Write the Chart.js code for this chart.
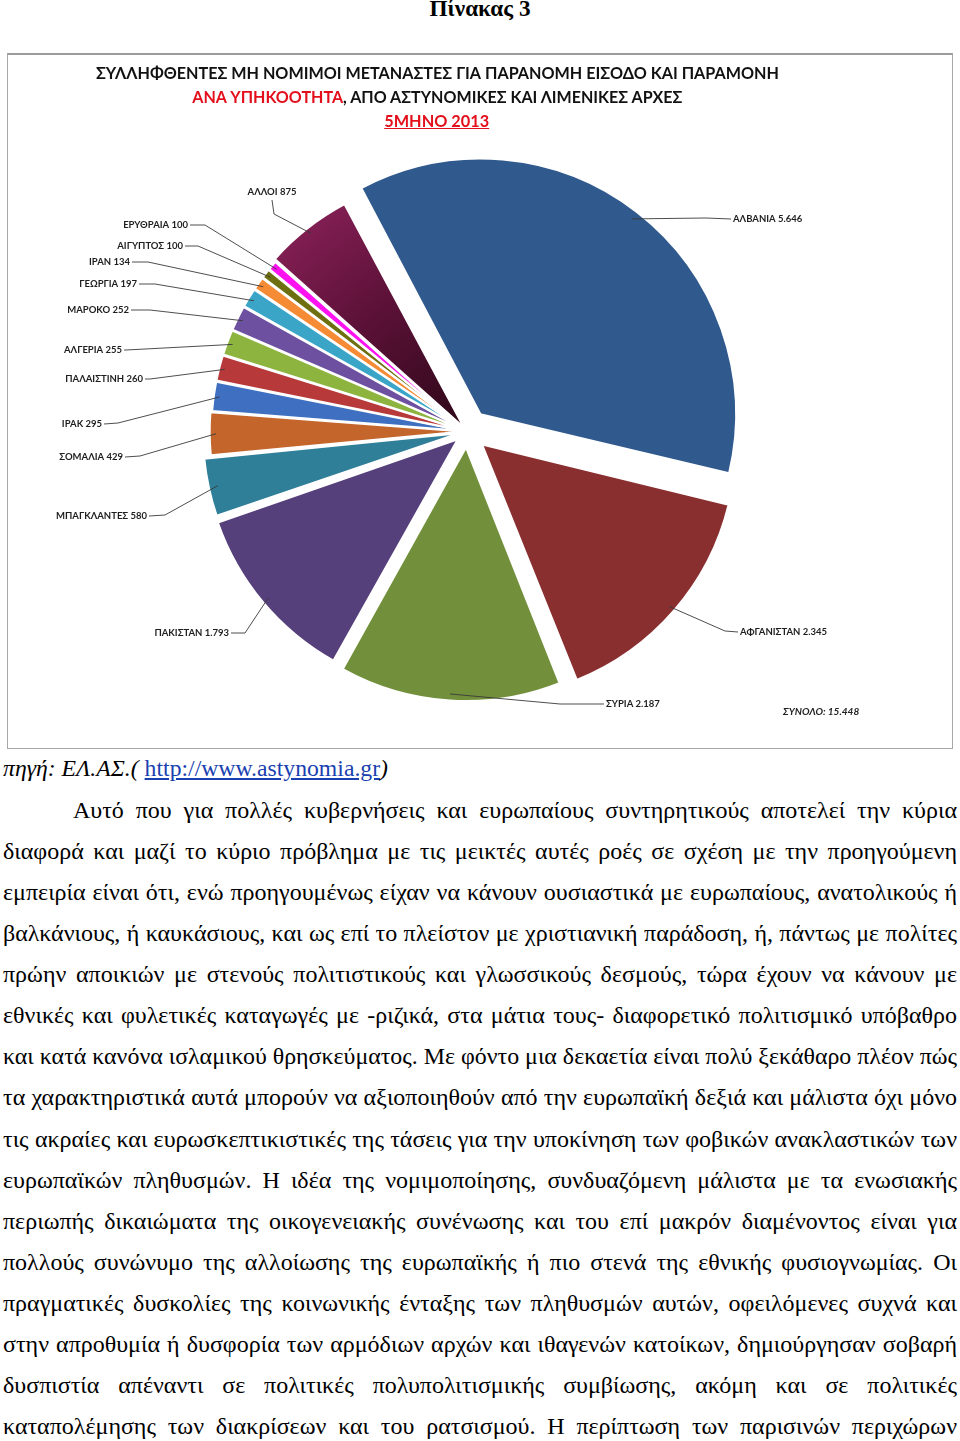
<!DOCTYPE html>
<html lang="el">
<head>
<meta charset="UTF-8">
<title>Πίνακας 3</title>
<script src="https://cdn.jsdelivr.net/npm/chart.js"></script>
<style>
    body {
        margin: 0;
        width: 960px;
        height: 1441px;
        position: relative;
        overflow: hidden;
        background: #fff;
        font-family: "Liberation Serif", "DejaVu Serif", serif;
        color: #000;
    }
    .abs { position: absolute; white-space: nowrap; }
    #heading { font-weight: bold; font-size: 23px; top: -4px; left: 0; width: 960px; text-align: center; }
    #frame {
        position: absolute;
        left: 7px; top: 53px;
        width: 946px; height: 696px;
        box-sizing: border-box;
        border: 1px solid #a8a8a8;
        border-top: 2px solid #9c9c9c;
    }
    #chartBox { position: absolute; left: 0; top: 0; width: 944px; height: 693px; }
    .ctitle {
        position: absolute; left: 0; width: 858px; text-align: center;
        font-family: Lato, "Open Sans", sans-serif; font-weight: bold; font-size: 17px;
        color: #111; white-space: nowrap;
    }
    .ctitle span.fit { display: inline-block; }
    .red { color: #e3101c; }
    #total {
        position: absolute; left: 775px; top: 650px;
        font-family: Lato, "Open Sans", sans-serif; font-weight: bold; font-style: italic; font-size: 10px; color: #222;
    }
    #source { left: 3px; top: 754px; font-size: 23px; line-height: 30px; }
    #source span { display: inline-block; transform-origin: left center; }
    #source a { color: #1a3fb0; text-decoration: underline; }
    .line { position: absolute; left: 3px; font-size: 24px; line-height: 41px; height: 41px; }
    .line span { display: inline-block; white-space: nowrap; transform-origin: left center; }
</style>
</head>
<body>
<div id="heading" class="abs"><span id="headText" style="display:inline-block">Πίνακας 3</span></div>

<div id="frame">
    <div id="chartBox"><canvas id="pieChart"></canvas></div>
    <div class="ctitle" style="top:7px"><span class="fit" data-w="683">ΣΥΛΛΗΦΘΕΝΤΕΣ ΜΗ ΝΟΜΙΜΟΙ ΜΕΤΑΝΑΣΤΕΣ ΓΙΑ ΠΑΡΑΝΟΜΗ ΕΙΣΟΔΟ ΚΑΙ ΠΑΡΑΜΟΝΗ</span></div>
    <div class="ctitle" style="top:31px"><span class="fit" data-w="490"><span class="red">ΑΝΑ ΥΠΗΚΟΟΤΗΤΑ</span>, ΑΠΟ ΑΣΤΥΝΟΜΙΚΕΣ ΚΑΙ ΛΙΜΕΝΙΚΕΣ ΑΡΧΕΣ</span></div>
    <div class="ctitle" style="top:55px"><span class="fit red" data-w="105" style="text-decoration:underline">5ΜΗΝΟ 2013</span></div>
    <div id="total">ΣΥΝΟΛΟ: 15.448</div>
</div>

<div id="source" class="abs"><span id="srcText"><i>πηγή: ΕΛ.ΑΣ.( </i><a>http://www.astynomia.gr</a><i>)</i></span></div>
<div id="text"></div>

<script>
    // chart data
    const countries = ['ΑΛΒΑΝΙΑ', 'ΑΦΓΑΝΙΣΤΑΝ', 'ΣΥΡΙΑ', 'ΠΑΚΙΣΤΑΝ', 'ΜΠΑΓΚΛΑΝΤΕΣ', 'ΣΟΜΑΛΙΑ', 'ΙΡΑΚ',
        'ΠΑΛΑΙΣΤΙΝΗ', 'ΑΛΓΕΡΙΑ', 'ΜΑΡΟΚΟ', 'ΓΕΩΡΓΙΑ', 'ΙΡΑΝ', 'ΑΙΓΥΠΤΟΣ', 'ΕΡΥΘΡΑΙΑ', 'ΑΛΛΟΙ'];
    const arrests = [5646, 2345, 2187, 1793, 580, 429, 295, 260, 255, 252, 197, 134, 100, 100, 875];
    const valueLabels = ['5.646', '2.345', '2.187', '1.793', '580', '429', '295', '260', '255', '252', '197', '134', '100', '100', '875'];

    const sliceColors = ['#30598d', '#8a2f30', '#72903b', '#56407b', '#2f7f98', '#c4652b', '#3e6fc0',
        '#b8393a', '#8db43f', '#6d51a0', '#3ba5c8', '#f68b35', '#6e6f10', '#ff12f0', '#7a1b4c'];

    const paragraphLines = [
        'Αυτό που για πολλές κυβερνήσεις και ευρωπαίους συντηρητικούς αποτελεί την κύρια',
        'διαφορά και μαζί το κύριο πρόβλημα με τις μεικτές αυτές ροές σε σχέση με την προηγούμενη',
        'εμπειρία είναι ότι, ενώ προηγουμένως είχαν να κάνουν ουσιαστικά με ευρωπαίους, ανατολικούς ή',
        'βαλκάνιους, ή καυκάσιους, και ως επί το πλείστον με χριστιανική παράδοση, ή, πάντως με πολίτες',
        'πρώην αποικιών με στενούς πολιτιστικούς και γλωσσικούς δεσμούς, τώρα έχουν να κάνουν με',
        'εθνικές και φυλετικές καταγωγές με -ριζικά, στα μάτια τους- διαφορετικό πολιτισμικό υπόβαθρο',
        'και κατά κανόνα ισλαμικού θρησκεύματος.  Με φόντο μια δεκαετία είναι πολύ ξεκάθαρο πλέον πώς',
        'τα χαρακτηριστικά αυτά μπορούν να αξιοποιηθούν από την ευρωπαϊκή δεξιά και μάλιστα όχι μόνο',
        'τις ακραίες και ευρωσκεπτικιστικές της τάσεις για την υποκίνηση των φοβικών ανακλαστικών των',
        'ευρωπαϊκών πληθυσμών. Η ιδέα της νομιμοποίησης, συνδυαζόμενη μάλιστα με τα ενωσιακής',
        'περιωπής δικαιώματα της οικογενειακής συνένωσης και του επί μακρόν διαμένοντος είναι για',
        'πολλούς συνώνυμο της αλλοίωσης της ευρωπαϊκής ή πιο στενά της εθνικής φυσιογνωμίας. Οι',
        'πραγματικές δυσκολίες της κοινωνικής ένταξης των πληθυσμών αυτών, οφειλόμενες συχνά και',
        'στην απροθυμία ή δυσφορία των αρμόδιων αρχών και ιθαγενών κατοίκων, δημιούργησαν σοβαρή',
        'δυσπιστία απέναντι σε πολιτικές πολυπολιτισμικής συμβίωσης, ακόμη και σε πολιτικές',
        'καταπολέμησης των διακρίσεων και του ρατσισμού. Η περίπτωση των παρισινών περιχώρων'
    ];

    // squeeze to width, or widen the word gaps when the line is short
    function fitWidth(el, width, justify) {
        const w = el.getBoundingClientRect().width;
        if (!justify || w > width) {
            el.style.transform = `scaleX(${width / w})`;
        } else {
            const gaps = (el.textContent.match(/ /g) || []).length;
            el.style.wordSpacing = ((width - w) / gaps) + 'px';
        }
    }

    const textBox = document.getElementById('text');
    paragraphLines.forEach((t, i) => {
        const div = document.createElement('div');
        div.className = 'line';
        div.style.top = (811 - 21 + i * 41.07) + 'px';
        const span = document.createElement('span');
        span.textContent = t;
        div.appendChild(span);
        textBox.appendChild(div);
        const indent = i === 0 ? 70 : 0;
        div.style.left = (3 + indent) + 'px';
        fitWidth(span, 954 - indent, true);
    });

    document.querySelectorAll('.ctitle .fit').forEach(el => {
        el.style.transformOrigin = 'center';
        fitWidth(el, +el.dataset.w, false);
    });
    const head = document.getElementById('headText');
    head.style.transformOrigin = 'center';
    fitWidth(head, 101, false);
    fitWidth(document.getElementById('srcText'), 385, false);

    // label layout in page coordinates: text x, text y, align, elbow x, elbow y
    const frameX = 8, frameY = 54;
    const labelSpots = [
        [733, 218, 'left', 706, 217],
        [740, 631, 'left', 725, 630],
        [606, 703, 'left', 560, 703],
        [229, 632, 'right', 245, 632],
        [147, 515, 'right', 165, 514],
        [123, 456, 'right', 140, 455],
        [102, 423, 'right', 118, 422],
        [143, 378, 'right', 150, 378],
        [122, 349, 'right', 126, 349],
        [129, 309, 'right', 150, 309],
        [137, 283, 'right', 155, 283],
        [130, 261, 'right', 148, 261],
        [183, 245, 'right', 198, 245],
        [188, 224, 'right', 205, 224],
        [272, 191, 'center', 274, 213]
    ];

    const leaderLabels = {
        id: 'leaderLabels',
        afterDatasetsDraw(chart) {
            const ctx = chart.ctx;
            const meta = chart.getDatasetMeta(0);
            ctx.save();
            ctx.font = 'bold 9.5px Lato, "Open Sans", sans-serif';
            ctx.fillStyle = '#1e1e1e';
            ctx.strokeStyle = '#3a3a3a';
            ctx.lineWidth = 0.9;
            ctx.textBaseline = 'middle';
            meta.data.forEach((arc, i) => {
                const p = arc.getProps(['x', 'y', 'startAngle', 'endAngle', 'outerRadius'], true);
                const mid = (p.startAngle + p.endAngle) / 2;
                const reach = (arc.options.offset || 0) / 4 + p.outerRadius - 3;
                const ax = p.x + Math.cos(mid) * reach;
                const ay = p.y + Math.sin(mid) * reach;
                const [tx, ty, align, ex, ey] = labelSpots[i];
                const x = tx - frameX, y = ty - frameY;
                let sx = x, sy = y;
                if (align === 'right') sx = x + 2;
                else if (align === 'left') sx = x - 2;
                else sy = y + 8;
                ctx.beginPath();
                ctx.moveTo(sx, sy);
                ctx.lineTo(ex - frameX, ey - frameY);
                ctx.lineTo(ax, ay);
                ctx.stroke();
                ctx.textAlign = align;
                ctx.fillText(countries[i] + ' ' + valueLabels[i], x, y);
            });
            ctx.restore();
        }
    };

    function sliceColor(context) {
        const i = context.dataIndex;
        const chart = context.chart;
        if (countries[i] !== 'ΑΛΛΟΙ' || !chart.chartArea) return sliceColors[i];
        const a = chart.chartArea;
        const cx = (a.left + a.right) / 2, cy = (a.top + a.bottom) / 2;
        const g = chart.ctx.createRadialGradient(cx, cy, 0, cx, cy, 255);
        g.addColorStop(0, '#2e0718');
        g.addColorStop(0.6, '#5e1239');
        g.addColorStop(1, '#801e52');
        return g;
    }

    new Chart(document.getElementById('pieChart'), {
        type: 'pie',
        data: {
            labels: countries,
            datasets: [{
                data: arrests,
                backgroundColor: sliceColor,
                borderColor: '#ffffff',
                borderWidth: 2,
                offset: [88, 80, 64, 48, 32, 16, 12, 12, 12, 12, 12, 12, 12, 12, 20],
                hoverOffset: 0
            }]
        },
        plugins: [leaderLabels],
        options: {
            responsive: true,
            maintainAspectRatio: false,
            animation: false,
            rotation: -28,
            radius: 250,
            layout: { padding: { left: 0, right: 26, top: 60, bottom: 0 } },
            plugins: {
                legend: { display: false },
                tooltip: { enabled: false },
                title: { display: false }
            },
            events: []
        }
    });
</script>
</body>
</html>
